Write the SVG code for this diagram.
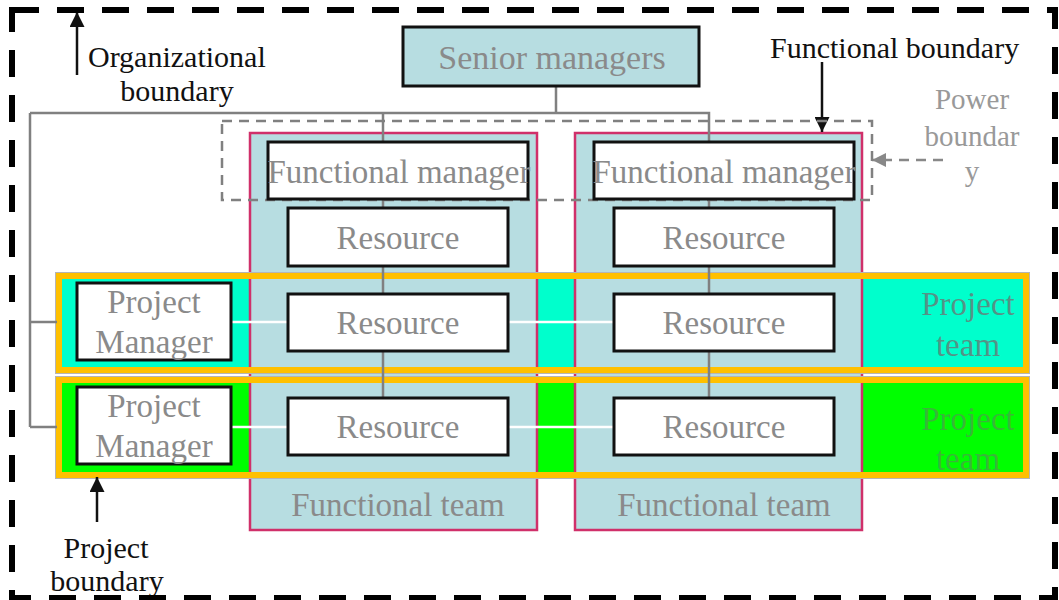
<svg xmlns="http://www.w3.org/2000/svg" width="1059" height="600" viewBox="0 0 1059 600">
<style>
  .lbl { font-family: "Liberation Serif", "Times New Roman", serif; fill: #111; font-size: 30px; }
  .gt { font-family: "Liberation Serif", "Times New Roman", serif; fill: #8a8a8a; font-size: 33px; text-anchor: middle; }
  .box { fill: #ffffff; stroke: #111; stroke-width: 3; }
  .col { fill: #b7dde1; stroke: #d0306a; stroke-width: 2.5; }
  .band { fill: none; stroke: #ffc000; stroke-width: 6; }
  .bandline { fill: none; stroke: #b5b5b5; stroke-width: 1; }
  .conn { fill: none; stroke: #808080; stroke-width: 2.5; }
  .wconn { fill: none; stroke: #ffffff; stroke-width: 2.5; }
</style>
<defs>
  <marker id="ah" viewBox="0 0 10 10" refX="10" refY="5" markerWidth="15" markerHeight="15" markerUnits="userSpaceOnUse" orient="auto">
    <path d="M0,0 L10,5 L0,10 z" fill="#111"/>
  </marker>
  <marker id="ahg" viewBox="0 0 10 10" refX="10" refY="5" markerWidth="14" markerHeight="14" markerUnits="userSpaceOnUse" orient="auto">
    <path d="M0,0 L10,5 L0,10 z" fill="#888"/>
  </marker>
</defs>
<rect width="1059" height="600" fill="#ffffff"/>

<!-- project team band fills -->
<g id="band-fills">
  <rect x="56" y="273" width="973" height="100" fill="#00ffcc"/>
  <rect x="56" y="377" width="973" height="101" fill="#00ff00"/>
</g>

<!-- functional columns -->
<g id="functional-team-1">
  <rect class="col" x="250" y="133" width="287" height="397"/>
  <text class="gt" x="398" y="516">Functional team</text>
</g>
<g id="functional-team-2">
  <rect class="col" x="575" y="133" width="287" height="397"/>
  <text class="gt" x="724" y="516">Functional team</text>
</g>

<!-- project team bands (borders + labels) -->
<g id="project-team-1">
  <text class="gt" x="968" y="315" style="fill:#707070" fill-opacity="0.75">Project</text>
  <text class="gt" x="968" y="356" style="fill:#707070" fill-opacity="0.75">team</text>
  <rect class="band" x="59" y="276" width="967" height="94"/>
  <rect class="bandline" x="55.5" y="272.5" width="974" height="101"/>
</g>
<g id="project-team-2">
  <text class="gt" x="968" y="430" style="fill:#707070" fill-opacity="0.5">Project</text>
  <text class="gt" x="968" y="470" style="fill:#707070" fill-opacity="0.5">team</text>
  <rect class="band" x="59" y="380" width="967" height="95"/>
  <rect class="bandline" x="55.5" y="376.5" width="974" height="102"/>
</g>

<!-- connectors -->
<g id="connectors">
  <path class="conn" d="M556,86 V113 M30,113 H709 V142 M383,113 V142"/>
  <path class="conn" d="M30,113 V427 M30,322 H57 M30,427 H57"/>
  <path class="conn" d="M383,199 V208 M383,266 V294 M383,351 V398"/>
  <path class="conn" d="M709,199 V208 M709,266 V294 M709,351 V398"/>
  <path class="wconn" d="M231,322 H288 M508,322 H614 M231,427 H288 M508,427 H614"/>
  <line x1="77" y1="75" x2="77" y2="12" stroke="#111" stroke-width="2.5" marker-end="url(#ah)"/>
  <line x1="822" y1="62" x2="822" y2="132" stroke="#111" stroke-width="2.5" marker-end="url(#ah)"/>
  <line x1="97" y1="522" x2="97" y2="477" stroke="#111" stroke-width="2.5" marker-end="url(#ah)"/>
  <line x1="943" y1="160" x2="872" y2="160" stroke="#888" stroke-width="2.5" stroke-dasharray="10 7" marker-end="url(#ahg)"/>
</g>

<!-- power boundary -->
<g id="power-boundary">
  <rect x="222" y="121" width="650" height="79" fill="none" stroke="#808080" stroke-width="2.5" stroke-dasharray="10 7"/>
  <text class="gt" x="972" y="109" style="font-size:29px;fill:#999">Power</text>
  <text class="gt" x="972" y="146" style="font-size:29px;fill:#999">boundar</text>
  <text class="gt" x="972" y="181" style="font-size:29px;fill:#999">y</text>
</g>

<g id="senior-managers">
  <rect x="403" y="27" width="296" height="59" fill="#b7dde1" stroke="#111" stroke-width="3"/>
  <text class="gt" x="552" y="69" style="font-size:34px">Senior managers</text>
</g>

<g id="functional-manager-1">
  <rect class="box" x="268" y="142" width="260" height="57"/>
  <text class="gt" x="399" y="183">Functional manager</text>
</g>
<g id="functional-manager-2">
  <rect class="box" x="594" y="142" width="260" height="57"/>
  <text class="gt" x="724" y="183">Functional manager</text>
</g>

<g id="resource-1a">
  <rect class="box" x="288" y="208" width="220" height="58"/>
  <text class="gt" x="398" y="249">Resource</text>
</g>
<g id="resource-2a">
  <rect class="box" x="614" y="208" width="220" height="58"/>
  <text class="gt" x="724" y="249">Resource</text>
</g>
<g id="resource-1b">
  <rect class="box" x="288" y="294" width="220" height="57"/>
  <text class="gt" x="398" y="334">Resource</text>
</g>
<g id="resource-2b">
  <rect class="box" x="614" y="294" width="220" height="57"/>
  <text class="gt" x="724" y="334">Resource</text>
</g>
<g id="resource-1c">
  <rect class="box" x="288" y="398" width="220" height="57"/>
  <text class="gt" x="398" y="438">Resource</text>
</g>
<g id="resource-2c">
  <rect class="box" x="614" y="398" width="220" height="57"/>
  <text class="gt" x="724" y="438">Resource</text>
</g>

<g id="project-manager-1">
  <rect class="box" x="77" y="283" width="154" height="77"/>
  <text class="gt" x="154" y="313">Project</text>
  <text class="gt" x="154" y="353">Manager</text>
</g>
<g id="project-manager-2">
  <rect class="box" x="77" y="387" width="154" height="77"/>
  <text class="gt" x="154" y="417">Project</text>
  <text class="gt" x="154" y="457">Manager</text>
</g>

<g id="labels">
  <text class="lbl" x="88" y="67">Organizational</text>
  <text class="lbl" x="177" y="101" text-anchor="middle">boundary</text>
  <text class="lbl" x="770" y="58">Functional boundary</text>
  <text class="lbl" x="106" y="558" text-anchor="middle">Project</text>
  <text class="lbl" x="107" y="591" text-anchor="middle">boundary</text>
</g>

<g id="organizational-boundary">
  <rect x="12" y="10" width="1043" height="588" fill="none" stroke="#000" stroke-width="6" stroke-dasharray="27 18"/>
</g>
</svg>
